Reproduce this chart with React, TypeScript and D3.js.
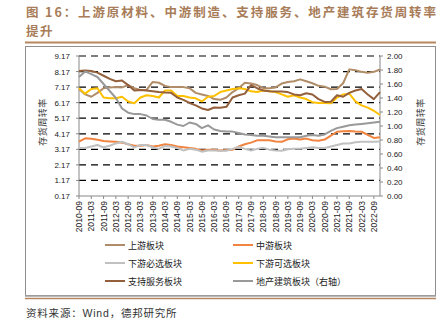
import React from "react";
import * as d3 from "d3";

const categories: string[] = [];
for (let y = 2010; y <= 2022; y++) {
  for (const m of ["03", "06", "09", "12"]) {
    const k = `${y}-${m}`;
    if (k >= "2010-09") categories.push(k);
  }
}
const tickLabels = categories.filter((_, i) => i % 2 === 0 && i <= 48);

const leftTicks = [0.17, 1.17, 2.17, 3.17, 4.17, 5.17, 6.17, 7.17, 8.17, 9.17];
const rightTicks = [0, 0.2, 0.4, 0.6, 0.8, 1.0, 1.2, 1.4, 1.6, 1.8, 2.0];

const upstream = [7.05, 6.7, 6.55, 6.8, 7.1, 7.15, 7.17, 7.15, 7.3, 7.1, 6.98, 7.0, 7.5, 7.45, 7.25, 7.17, 7.17, 7.17, 7.1, 6.8, 6.7, 6.6, 6.4, 6.35, 6.5, 6.85, 7.1, 7.45, 7.4, 7.3, 7.1, 7.1, 7.15, 7.4, 7.5, 7.55, 7.67, 7.55, 7.42, 7.25, 7.2, 7.03, 7.05, 7.42, 8.31, 8.25, 8.15, 8.1, 8.15, 8.3];
const midstream = [3.66, 3.88, 3.85, 3.78, 3.7, 3.68, 3.65, 3.6, 3.5, 3.4, 3.4, 3.45, 3.35, 3.4, 3.5, 3.45, 3.35, 3.3, 3.25, 3.2, 3.1, 3.15, 3.15, 3.1, 3.13, 3.15, 3.35, 3.5, 3.6, 3.75, 3.75, 3.75, 3.68, 3.65, 3.82, 3.86, 3.8, 3.86, 3.75, 3.72, 3.8, 4.05, 4.3, 4.33, 4.35, 4.32, 4.3, 4.1, 3.9, 3.95];
const downEssential = [3.25, 3.25, 3.35, 3.45, 3.3, 3.4, 3.55, 3.66, 3.5, 3.3, 3.45, 3.45, 3.3, 3.2, 3.38, 3.35, 3.25, 3.1, 3.2, 3.15, 3.02, 3.1, 3.1, 3.08, 3.08, 3.2, 3.33, 3.2, 3.1, 3.2, 3.25, 3.15, 3.1, 3.08, 3.18, 3.2, 3.2, 3.25, 3.3, 3.25, 3.25, 3.35, 3.45, 3.55, 3.55, 3.62, 3.66, 3.65, 3.66, 3.68];
const downOptional = [7.1, 6.75, 7.05, 7.1, 6.5, 6.45, 6.45, 6.55, 6.25, 6.13, 6.5, 6.65, 6.6, 6.5, 6.95, 6.95, 6.6, 6.6, 6.5, 6.45, 6.25, 6.55, 6.6, 6.85, 6.95, 7.05, 7.1, 7.05, 6.9, 6.85, 6.95, 6.9, 6.85, 6.7, 6.55, 6.65, 6.5, 6.4, 6.2, 6.15, 6.15, 6.13, 6.5, 6.7, 6.75, 6.25, 6.0, 5.85, 5.65, 5.38];
const support = [8.2, 8.23, 8.2, 8.1, 7.9, 7.7, 7.55, 7.6, 7.3, 6.95, 6.98, 6.95, 6.9, 6.85, 6.82, 6.8, 6.5, 6.35, 6.15, 6.0, 5.8, 5.7, 5.86, 5.85, 5.9, 6.5, 6.65, 6.75, 7.3, 7.1, 6.95, 6.9, 6.88, 6.88, 6.85, 6.7, 6.65, 6.78, 6.7, 6.4, 6.22, 6.23, 6.65, 6.55, 6.8, 6.95, 7.05, 6.7, 6.4, 6.85];
const realEstate = [1.7, 1.78, 1.74, 1.7, 1.6, 1.5, 1.4, 1.25, 1.19, 1.17, 1.17, 1.15, 1.1, 1.09, 1.09, 1.06, 1.02, 1.0, 1.05, 1.03, 0.97, 1.01, 0.95, 0.93, 0.92, 0.92, 0.9, 0.88, 0.87, 0.86, 0.86, 0.85, 0.84, 0.84, 0.84, 0.84, 0.84, 0.86, 0.87, 0.86, 0.88, 0.93, 0.97, 0.99, 1.01, 1.02, 1.03, 1.04, 1.05, 1.06];

const seriesNames = ["上游板块", "中游板块", "下游必选板块", "下游可选板块", "支持服务板块", "地产建筑板块（右轴）"];
const seriesColors = ["#B08D68", "#F08440", "#C0C0C0", "#FFC000", "#94603C", "#999999"];

const W = 447, H = 325;
const PL = 79, PR = 380, PT = 56, PB = 196;

export default function App() {
  const x = d3.scalePoint<string>().domain(categories).range([PL, PR]);
  const yL = d3.scaleLinear().domain([0.17, 9.17]).range([PB, PT]);
  const yR = d3.scaleLinear().domain([0, 2]).range([PB, PT]);
  const series = [
    { v: upstream, s: yL },
    { v: midstream, s: yL },
    { v: downEssential, s: yL },
    { v: downOptional, s: yL },
    { v: support, s: yL },
    { v: realEstate, s: yR },
  ];
  const mk = (vals: number[], sc: d3.ScaleLinear<number, number>) =>
    d3.line<number>().x((_, i) => x(categories[i]) as number).y((d) => sc(d))(vals) || "";
  const font = "'Liberation Sans', Arial, sans-serif";
  const cjk = "'Noto Sans CJK SC', sans-serif";
  const titleColor = "#A87C58";
  const legendPos = [
    [105, 245], [233, 245], [105, 263], [233, 263], [105, 281], [233, 281],
  ];
  return (
    <svg width={W} height={H} style={{ position: "absolute", left: 0, top: 0, background: "#fff" }}>
      <text x={26} y={16.5} fontFamily={cjk} fontWeight="bold" fontSize={12.5} fill={titleColor} textLength={410} lengthAdjust="spacing">图 16：上游原材料、中游制造、支持服务、地产建筑存货周转率</text>
      <text x={26} y={36} fontFamily={cjk} fontWeight="bold" fontSize={12.5} fill={titleColor} letterSpacing={1.5}>提升</text>
      <line x1={25} x2={436} y1={42.5} y2={42.5} stroke="#B8875F" strokeWidth={2} />
      <rect x={25.5} y={46.5} width={410} height={249} fill="none" stroke="#8f8f8f" strokeWidth={1} />
      <line x1={25} x2={436} y1={296} y2={296} stroke="#a0a0a0" strokeWidth={1.5} />
      <line x1={25} x2={436} y1={298.5} y2={298.5} stroke="#B8875F" strokeWidth={1.5} />

      {leftTicks.filter((t) => t > 0.2).map((t) => (
        <line key={"g" + t} x1={PL} x2={PR} y1={yL(t)} y2={yL(t)} stroke="#000" strokeWidth={1.2} strokeDasharray="7,5" />
      ))}
      <line x1={PL} x2={PL} y1={PT} y2={PB} stroke="#888" />
      <line x1={PR} x2={PR} y1={PT} y2={PB} stroke="#888" />
      <line x1={PL} x2={PR} y1={PB} y2={PB} stroke="#888" />
      {leftTicks.map((t) => (
        <g key={"l" + t}>
          <line x1={PL - 3} x2={PL} y1={yL(t)} y2={yL(t)} stroke="#888" />
          <text x={70} y={yL(t) + 3} textAnchor="end" fontFamily={font} fontSize={8} fill="#222">{t.toFixed(2)}</text>
        </g>
      ))}
      {rightTicks.map((t) => (
        <g key={"r" + t}>
          <line x1={PR} x2={PR + 3} y1={yR(t)} y2={yR(t)} stroke="#888" />
          <text x={387} y={yR(t) + 3} fontFamily={font} fontSize={8} fill="#222">{t.toFixed(2)}</text>
        </g>
      ))}
      {tickLabels.map((c) => (
        <g key={c}>
          <line x1={x(c)} x2={x(c)} y1={PB} y2={PB + 3} stroke="#888" />
          <text transform={`translate(${(x(c) as number) + 3},${PB + 5}) rotate(-90)`} textAnchor="end" fontFamily={font} fontSize={8.5} fill="#222">{c}</text>
        </g>
      ))}
      <text transform="translate(46,122) rotate(-90)" textAnchor="middle" fontFamily={cjk} fontSize={9} fill="#333" letterSpacing={0.5}>存货周转率</text>
      <text transform="translate(424,122) rotate(-90)" textAnchor="middle" fontFamily={cjk} fontSize={9} fill="#333" letterSpacing={0.5}>存货周转率</text>

      {series.map((s, i) => (
        <path key={i} d={mk(s.v, s.s)} fill="none" stroke={seriesColors[i]} strokeWidth={2} strokeLinejoin="round" />
      ))}

      {seriesNames.map((n, i) => (
        <g key={n}>
          <line x1={legendPos[i][0]} x2={legendPos[i][0] + 20} y1={legendPos[i][1]} y2={legendPos[i][1]} stroke={seriesColors[i]} strokeWidth={2} />
          <text x={legendPos[i][0] + 23} y={legendPos[i][1] + 3.5} fontFamily={cjk} fontSize={9} fill="#222">{n}</text>
        </g>
      ))}
      <text x={26} y={317} fontFamily={cjk} fontSize={10.5} fill="#333" letterSpacing={0.8}>
        资料来源：<tspan fontFamily={font}>Wind</tspan>，德邦研究所
      </text>
    </svg>
  );
}
